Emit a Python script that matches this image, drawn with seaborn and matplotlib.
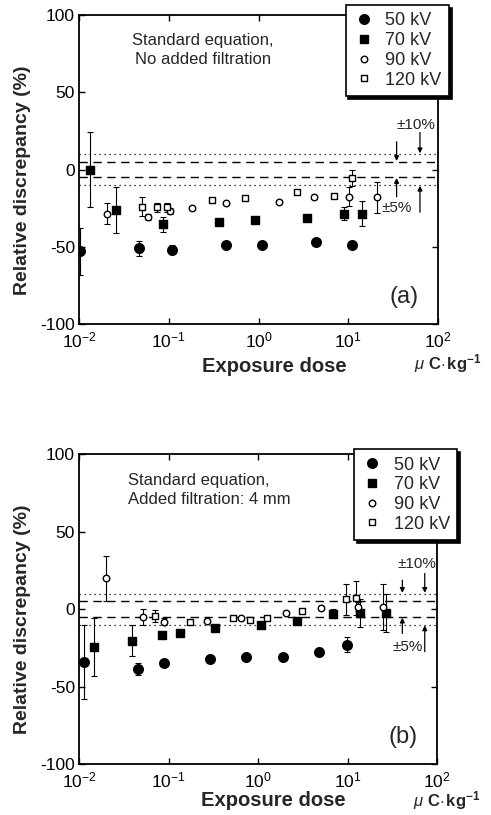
import matplotlib
matplotlib.use("Agg")
import matplotlib.pyplot as plt
import seaborn as sns
import numpy as np
from matplotlib.lines import Line2D
from matplotlib.ticker import NullLocator, FixedLocator

# ---- data ----
# panel (a): no added filtration
a_x50 = [0.0102, 0.046, 0.108, 0.434, 1.085, 4.37, 10.9]
a_y50 = [-53, -51, -52, -49, -49, -47, -49]
a_e50 = [15, 5, 3, 1, 1, 1, 2]
a_x70 = [0.0133, 0.0258, 0.087, 0.363, 0.914, 3.5, 9.0, 14.4]
a_y70 = [0, -26, -35.5, -34, -33, -31.5, -28.5, -28.5]
a_e70 = [24, 15, 5, 1, 1, 1, 4, 8]
a_x90 = [0.0207, 0.059, 0.103, 0.18, 0.43, 1.69, 4.15, 10.2, 20.7]
a_y90 = [-28.5, -30.5, -27, -25, -22, -21, -18, -17.5, -18]
a_e90 = [7, 2, 2, 1, 1, 1, 1, 6, 10]
a_x120 = [0.05, 0.073, 0.095, 0.30, 0.70, 2.7, 6.9, 11.1]
a_y120 = [-24, -24.5, -24.5, -20, -18.5, -14.5, -17, -5.5]
a_e120 = [6, 3, 3, 1, 1, 1, 1, 5]

# panel (b): added filtration 4 mm
b_x50 = [0.0114, 0.046, 0.089, 0.291, 0.734, 1.92, 4.8, 9.8]
b_y50 = [-34, -38.5, -34.5, -32.5, -31, -31, -28, -23]
b_e50 = [24, 4, 1, 1, 1, 1, 1, 5]
b_x70 = [0.0148, 0.0388, 0.085, 0.134, 0.331, 1.07, 2.7, 6.84, 13.8, 27]
b_y70 = [-24.5, -20.5, -17, -15.5, -12.5, -10, -7.5, -3, -2.5, -2.5]
b_e70 = [19, 10, 1, 1, 1, 1, 1, 3, 9, 12]
b_x90 = [0.020, 0.052, 0.090, 0.267, 0.646, 2.05, 5.06, 13.2, 25]
b_y90 = [20, -5, -8, -7.5, -6, -2.5, 1, 1.5, 1.5]
b_e90 = [14.5, 5, 2, 1, 1, 1, 1, 3, 15]
b_x120 = [0.0706, 0.174, 0.53, 0.815, 1.25, 3.07, 9.6, 12.4]
b_y120 = [-4.5, -8.5, -6, -7, -5.5, -1, 6.5, 7]
b_e120 = [4, 1, 1, 1, 1, 1, 10, 11]

labels = ["50 kV", "70 kV", "90 kV", "120 kV"]
yticks = [-100, -50, 0, 50, 100]
xticks = [1e-2, 1e-1, 1e0, 1e1, 1e2]

sns.set_style("ticks")
plt.rcParams["font.family"] = ["Liberation Sans", "DejaVu Sans"]
plt.rcParams["mathtext.fontset"] = "custom"
plt.rcParams["mathtext.rm"] = "Liberation Sans"
plt.rcParams["mathtext.it"] = "Liberation Sans:italic"
plt.rcParams["mathtext.bf"] = "Liberation Sans:bold"
plt.rcParams["axes.unicode_minus"] = False

# marker style per series: (marker, face, size)
styles = [("o", "black", 48), ("s", "black", 28), ("o", "white", 22), ("s", "white", 22)]

fig = plt.figure(figsize=(4.91, 8.15), dpi=100)
ax_a = fig.add_axes([0.161, 0.6025, 0.731, 0.379])
ax_b = fig.add_axes([0.161, 0.0626, 0.729, 0.380])


def draw_panel(ax, series, note, note_pos, note_ha, tag, legend_anchor, arrows, lab10, lab5, xlab_y, unit_pos):
    for (x, y, e), (m, fc, s) in zip(series, styles):
        ax.errorbar(x, y, yerr=e, fmt="none", ecolor="black", elinewidth=0.8,
                    capsize=2, capthick=0.8, zorder=2)
        sns.scatterplot(x=x, y=y, ax=ax, marker=m, s=s, color=fc,
                        edgecolor="black", linewidth=1.0, zorder=3, legend=False)
    ax.axhline(10, color="black", ls=(0, (1, 3)), lw=0.9, zorder=1)
    ax.axhline(-10, color="black", ls=(0, (1, 3)), lw=0.9, zorder=1)
    ax.axhline(5, color="black", ls=(0, (6, 4)), lw=1.0, zorder=1)
    ax.axhline(-5, color="black", ls=(0, (6, 4)), lw=1.0, zorder=1)
    ax.set_xscale("log")
    ax.set_xlim(1e-2, 1e2)
    ax.set_ylim(-100, 100)
    ax.xaxis.set_major_locator(FixedLocator(xticks))
    ax.xaxis.set_minor_locator(NullLocator())
    ax.set_yticks(yticks)
    ax.set_yticklabels([str(v) for v in yticks])
    ax.tick_params(which="both", direction="in", top=True, right=True,
                   length=4, width=1.0, labelsize=12.5, colors="black", pad=3)
    ax.tick_params(axis="x", pad=5)
    for sp in ax.spines.values():
        sp.set_linewidth(1.3)
        sp.set_color("black")
    ax.set_xlabel("Exposure dose", fontsize=14.5, fontweight="bold")
    ax.xaxis.set_label_coords(0.543, xlab_y)
    ax.set_ylabel("Relative discrepancy (%)", fontsize=14, fontweight="bold")
    ax.yaxis.set_label_coords(-0.135, 0.466)
    ax.text(note_pos[0], note_pos[1], note, transform=ax.transAxes, ha=note_ha,
            va="center", fontsize=12, linespacing=1.3, multialignment=note_ha)
    ax.text(0.905, 0.087, tag, transform=ax.transAxes, ha="center", va="center", fontsize=17)
    ax.text(unit_pos[0], unit_pos[1], r"$\mu$ $\mathbf{C{\cdot}\,kg^{-1}}$", transform=ax.transAxes,
            ha="left", va="center", fontsize=12, clip_on=False)
    for (x0, y0, y1) in arrows:
        ax.annotate("", xy=(x0, y1), xytext=(x0, y0),
                    arrowprops=dict(arrowstyle="-|>", color="black", lw=0.9,
                                    mutation_scale=7, shrinkA=0, shrinkB=0))
    ax.text(lab10[0], lab10[1], "±10%", ha="center", va="center", fontsize=11)
    ax.text(lab5[0], lab5[1], "±5%", ha="center", va="center", fontsize=11)

    handles = []
    for m, fc, s in styles:
        handles.append(Line2D([], [], marker=m, ls="none", mfc=fc, mec="black",
                              mew=1.0, ms=np.sqrt(s)))
    leg = ax.legend(handles, labels, loc="upper right", bbox_to_anchor=legend_anchor,
                    frameon=True, fancybox=False, shadow={"color": "black", "alpha": 1},
                    fontsize=13, labelspacing=0.15, handletextpad=0.6,
                    borderpad=0.4, handlelength=1.2, borderaxespad=0)
    leg.get_frame().set_edgecolor("black")
    leg.get_frame().set_linewidth(1.2)
    leg.get_frame().set_alpha(1)
    leg.set_zorder(10)


draw_panel(ax_a,
           [(a_x50, a_y50, a_e50), (a_x70, a_y70, a_e70),
            (a_x90, a_y90, a_e90), (a_x120, a_y120, a_e120)],
           "Standard equation,\nNo added filtration", (0.345, 0.887), "center", "(a)",
           (1.03, 1.032),
           [(34.6, 18, 5.5), (63, 24, 10.5), (34.6, -17.6, -5.5), (63, -27.7, -10.5)],
           (57, 29), (35, -25), -0.108, (0.933, -0.128))

draw_panel(ax_b,
           [(b_x50, b_y50, b_e50), (b_x70, b_y70, b_e70),
            (b_x90, b_y90, b_e90), (b_x120, b_y120, b_e120)],
           "Standard equation,\nAdded filtration: 4 mm", (0.137, 0.884), "left", "(b)",
           (1.056, 1.016),
           [(41, 18.7, 10.5), (73, 23, 10.5), (41, -15.7, -5.5), (73, -27.5, -10.5)],
           (60, 29), (46.8, -24.3), -0.088, (0.933, -0.118))

fig.savefig("out.png", dpi=100)
